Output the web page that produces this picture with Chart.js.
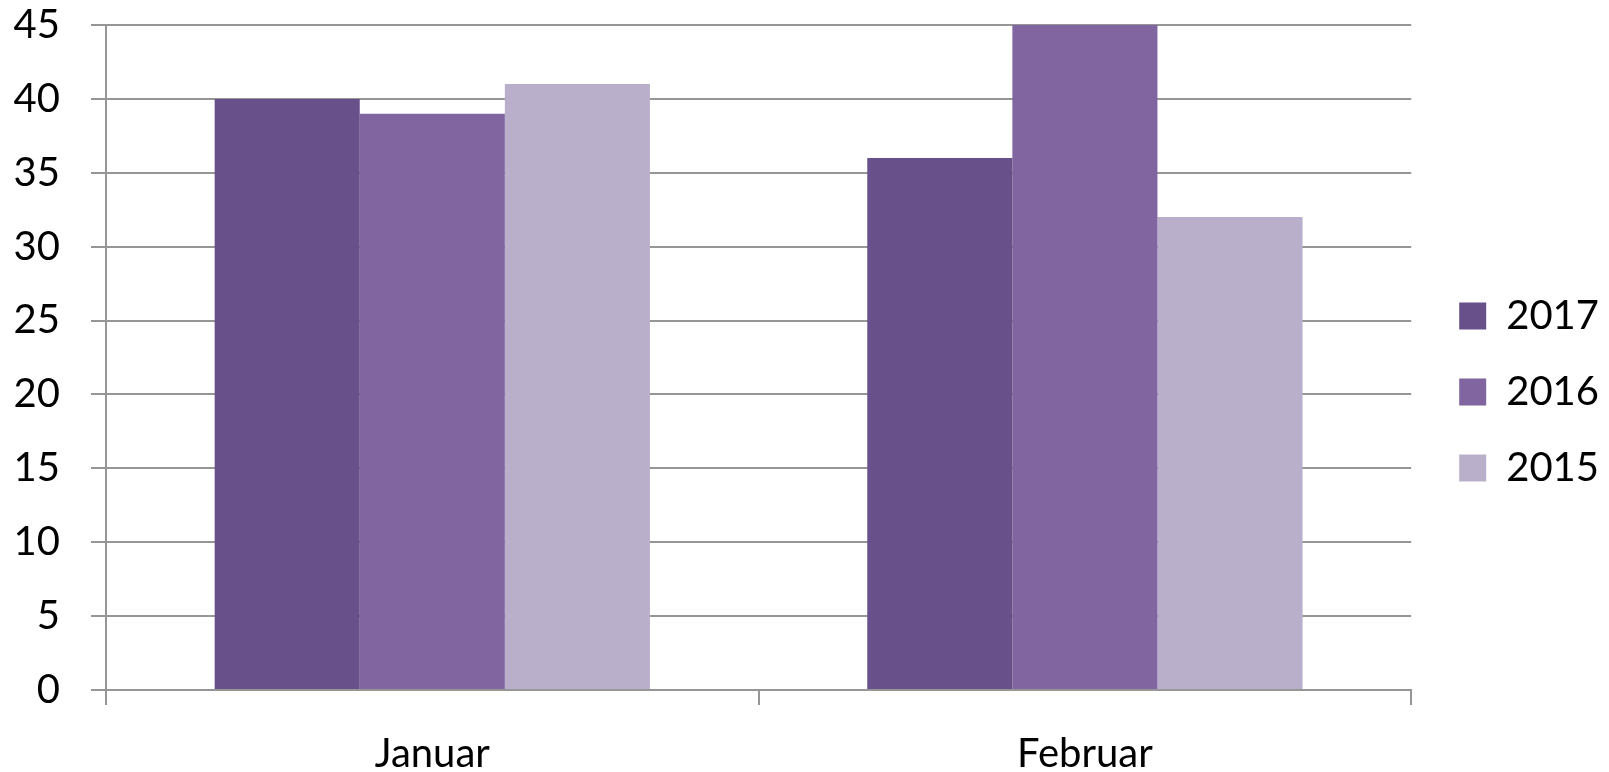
<!DOCTYPE html>
<html>
<head>
<meta charset="utf-8">
<script src="https://cdn.jsdelivr.net/npm/chart.js@4"></script>
<style>
  body { margin: 0; background: #fff; }
  #wrap { width: 1609px; height: 772px; position: relative; }
</style>
</head>
<body>
<div id="wrap"><canvas id="chart"></canvas></div>
<script>
// data
const categories = ["Januar", "Februar"];
const seriesNames = ["2017", "2016", "2015"];
const values2017 = [40, 36];
const values2016 = [39, 45];
const values2015 = [41, 32];
const seriesColors = ["#68518a", "#8065a1", "#b9afca"];

const gridGray = "#969696";
const fontName = "Lato, 'Open Sans', sans-serif";

const ctx = document.getElementById("chart").getContext("2d");
new Chart(ctx, {
  type: "bar",
  data: {
    labels: categories,
    datasets: [
      { label: seriesNames[0], data: values2017, backgroundColor: seriesColors[0] },
      { label: seriesNames[1], data: values2016, backgroundColor: seriesColors[1] },
      { label: seriesNames[2], data: values2015, backgroundColor: seriesColors[2] }
    ]
  },
  options: {
    responsive: true,
    maintainAspectRatio: false,
    animation: false,
    layout: { padding: 0 },
    datasets: { bar: { categoryPercentage: 0.667, barPercentage: 1 } },
    plugins: {
      tooltip: { enabled: false },
      legend: {
        position: "right",
        align: "center",
        labels: {
          boxWidth: 27,
          boxHeight: 27,
          padding: 48,
          color: "#000",
          font: { family: fontName, size: 40, lineHeight: 0.7 },
          // wrap text in an array so the row step uses the font lineHeight
          generateLabels: function (chart) {
            const items = Chart.defaults.plugins.legend.labels.generateLabels(chart);
            items.forEach(function (it) { it.text = [it.text]; it.lineWidth = 0; });
            return items;
          }
        }
      }
    },
    scales: {
      x: {
        afterFit: function (scale) { scale.height = 82; },
        grid: { drawOnChartArea: false, drawTicks: true, tickLength: 15, color: gridGray, lineWidth: 2 },
        border: { color: gridGray, width: 2 },
        ticks: { color: "#000", padding: 25, font: { family: fontName, size: 40 } }
      },
      y: {
        min: 0,
        max: 45,
        afterFit: function (scale) {
          scale.width = 106;
          scale.paddingTop = 25;
          scale.paddingBottom = 0;
        },
        grid: { color: gridGray, lineWidth: 2, tickLength: 15 },
        border: { color: gridGray, width: 2 },
        ticks: { stepSize: 5, color: "#000", padding: 31, font: { family: fontName, size: 40 } }
      }
    }
  }
});
</script>
</body>
</html>
